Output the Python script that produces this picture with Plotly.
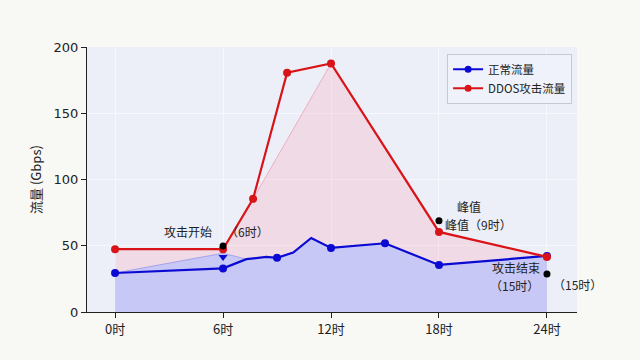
import plotly.graph_objects as go

# Data
hours_tick = [0, 6, 12, 18, 24]
tick_labels = ["0时", "6时", "12时", "18时", "24时"]

normal_x = [0, 6, 7.3, 8.4, 9, 9.9, 10.9, 12, 15, 18, 24]
normal_y = [29.5, 33, 40, 41.7, 41, 45, 56, 48.5, 52, 35.6, 42.4]
normal_mark_x = [0, 6, 9, 12, 15, 18, 24]
normal_mark_y = [29.5, 33, 41, 48.5, 52, 35.6, 42.4]
normal_fill_x = [0, 6, 7.3, 8.4, 9, 9.9, 10.9, 12, 15, 18, 24]
normal_fill_y = [29.5, 44.5, 40, 41.7, 41, 45, 56, 48.5, 52, 35.6, 42.4]

ddos_x = [0, 6, 7.67, 9.56, 12, 18, 24]
ddos_y = [47.5, 47.5, 85.6, 181, 188, 60.6, 41.7]
ddos_fill_x = [0, 6, 7.67, 12, 18, 24]
ddos_fill_y = [47.5, 47.5, 85.6, 188, 60.6, 41.7]

event_x = [6, 18, 24]
event_y = [50, 69, 28.8]
tri_x = [6]
tri_y = [41.7]

BLUE = "#0a0ad2"
RED = "#d81418"
FONT = "DejaVu Sans, Noto Sans CJK SC, sans-serif"
CJK = "Noto Sans CJK SC, DejaVu Sans, sans-serif"

fig = go.Figure()

# fills
fig.add_trace(go.Scatter(x=ddos_fill_x, y=ddos_fill_y, mode="lines", fill="tozeroy",
                         line=dict(color="rgba(235,110,130,0.55)", width=0.8),
                         fillcolor="rgba(255,150,170,0.22)", showlegend=False, hoverinfo="skip"))
fig.add_trace(go.Scatter(x=normal_fill_x, y=normal_fill_y, mode="lines", fill="tozeroy",
                         line=dict(color="rgba(110,110,235,0.6)", width=0.8),
                         fillcolor="#c7c8f5", showlegend=False, hoverinfo="skip"))

# lines
fig.add_trace(go.Scatter(x=normal_x, y=normal_y, mode="lines", line=dict(color=BLUE, width=2.2),
                         showlegend=False, hoverinfo="skip"))
fig.add_trace(go.Scatter(x=normal_mark_x, y=normal_mark_y, mode="markers",
                         marker=dict(color=BLUE, size=8), showlegend=False))
fig.add_trace(go.Scatter(x=ddos_x, y=ddos_y, mode="lines+markers", line=dict(color=RED, width=2.2),
                         marker=dict(color=RED, size=8), showlegend=False))

# legend entries
fig.add_trace(go.Scatter(x=[None], y=[None], mode="lines+markers", name="正常流量",
                         line=dict(color=BLUE, width=2), marker=dict(color=BLUE, size=7)))
fig.add_trace(go.Scatter(x=[None], y=[None], mode="lines+markers", name="DDOS攻击流量",
                         line=dict(color=RED, width=2), marker=dict(color=RED, size=7)))

# event markers
fig.add_trace(go.Scatter(x=tri_x, y=tri_y, mode="markers",
                         marker=dict(color=BLUE, size=8, symbol="triangle-down"), showlegend=False))
fig.add_trace(go.Scatter(x=event_x, y=event_y, mode="markers",
                         marker=dict(color="black", size=7), showlegend=False))

annots = [
    dict(x=4.05, y=61, text="攻击开始", xa="center"),
    dict(x=6.1, y=61, text="（6时）", xa="left"),
    dict(x=19.65, y=80, text="峰值", xa="center"),
    dict(x=20.2, y=66.5, text="峰值（9时）", xa="center"),
    dict(x=22.3, y=33.5, text="攻击结束", xa="center"),
    dict(x=22.2, y=20, text="（15时）", xa="center"),
    dict(x=24.3, y=21, text="（15时）", xa="left"),
]
for a in annots:
    fig.add_annotation(x=a["x"], y=a["y"], text=a["text"], showarrow=False, xanchor=a["xa"],
                       font=dict(family=CJK, size=12, color="#222"), borderpad=0)

fig.update_layout(
    width=640, height=360,
    margin=dict(l=87, r=63, t=47, b=48),
    paper_bgcolor="#f8f8f5",
    plot_bgcolor="#eceef8",
    font=dict(family=FONT, size=13, color="#222"),
    legend=dict(x=0.99, y=0.975, xanchor="right", yanchor="top",
                bgcolor="rgba(240,242,250,0.9)", bordercolor="#c8c8d0", borderwidth=1,
                font=dict(family=CJK, size=11.5), tracegroupgap=0),
    xaxis=dict(range=[-1.56, 25.67], tickvals=hours_tick, ticktext=tick_labels,
               showline=True, linecolor="#222", linewidth=1.2, ticks="outside", ticklen=5,
               tickcolor="#222", gridcolor="rgba(255,255,255,0.6)", zeroline=False,
               tickfont=dict(family=CJK, size=13)),
    yaxis=dict(range=[0, 200.5], tickvals=[0, 50, 100, 150, 200],
               showline=True, linecolor="#222", linewidth=1.2, ticks="outside", ticklen=5,
               tickcolor="#222", gridcolor="rgba(255,255,255,0.6)", zeroline=False,
               title=dict(text="流量 (Gbps)", font=dict(family=CJK, size=13), standoff=8)),
)

fig.write_html("out.html")
